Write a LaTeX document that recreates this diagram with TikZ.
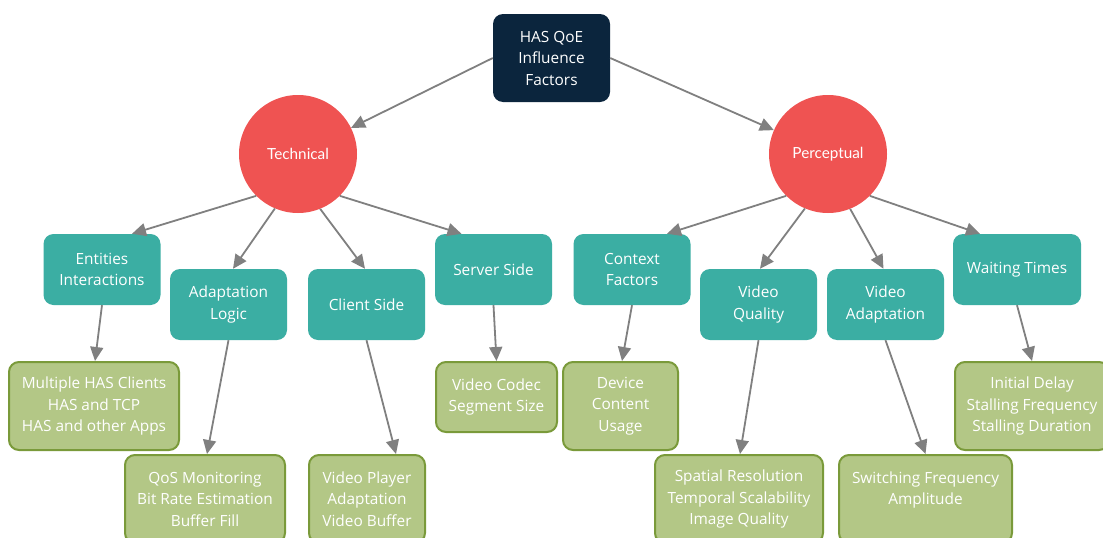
\documentclass[tikz,border=0pt]{standalone}
\usepackage{fontspec}
\setmainfont{Open Sans}
\newfontfamily\latofont{Lato}
\usetikzlibrary{arrows.meta,calc}
\definecolor{navy}{RGB}{11,37,61}
\definecolor{redc}{RGB}{239,83,82}
\definecolor{tealc}{RGB}{59,174,163}
\definecolor{leafg}{RGB}{179,199,134}
\definecolor{leafb}{RGB}{122,154,58}
\definecolor{arrowg}{RGB}{128,128,128}
\begin{document}
\begin{tikzpicture}[x=1pt,y=-1pt,
  base/.style={font=\fontsize{15.4}{21.5}\selectfont, text=white, align=center, inner sep=0pt, rounded corners=10pt},
  rootbox/.style={base, fill=navy, minimum width=117pt, minimum height=88pt},
  cat/.style={circle, fill=redc, minimum size=118pt, inner sep=0pt, text=white, font=\latofont\fontsize{15.3}{18}\selectfont},
  sub/.style={base, fill=tealc, minimum width=117pt, minimum height=71pt},
  leaf/.style={base, fill=leafg, draw=leafb, line width=2pt, minimum height=88pt},
  arr/.style={draw=arrowg, line width=1.8pt, -{Triangle[length=14pt,width=13pt]}}
]
\path[use as bounding box, clip] (0,0) rectangle (1103,538);
\fill[white] (0,0) rectangle (1103,538);

\node[rootbox] (root) at (551.5,58) {HAS QoE\\Influence\\Factors};
\node[cat] (tech) at (298,154) {Technical};
\node[cat] (perc) at (828,154) {Perceptual};

\node[sub] (ent) at (102,269.5) {Entities\\Interactions};
\node[sub] (adapt) at (228.5,304.5) {Adaptation\\Logic};
\node[sub] (client) at (366.5,304.5) {Client Side};
\node[sub] (server) at (493.5,269.5) {Server Side};
\node[sub] (context) at (632,269.5) {Context\\Factors};
\node[sub] (vq) at (758.5,304.5) {Video\\Quality};
\node[sub] (va) at (885.5,304.5) {Video\\Adaptation};
\node[sub, minimum width=128pt] (wait) at (1017,269.5) {Waiting Times};

\node[leaf, minimum width=170pt] (l1) at (94,406) {Multiple HAS Clients\\HAS and TCP\\HAS and other Apps};
\node[leaf, minimum width=160pt] (l2) at (205,499) {QoS Monitoring\\Bit Rate Estimation\\Buffer Fill};
\node[leaf, minimum width=116pt] (l3) at (367,499) {Video Player\\Adaptation\\Video Buffer};
\node[leaf, minimum width=121pt, minimum height=70pt] (l4) at (496.5,397) {Video Codec\\Segment Size};
\node[leaf, minimum width=115pt] (l5) at (620.5,406) {Device\\Content\\Usage};
\node[leaf, minimum width=168pt] (l6) at (739,499) {Spatial Resolution\\Temporal Scalability\\Image Quality};
\node[leaf, minimum width=173pt] (l7) at (925.5,499) {Switching Frequency\\Amplitude\\\mbox{}};
\node[leaf, minimum width=154pt] (l8) at (1032,406) {Initial Delay\\Stalling Frequency\\Stalling Duration};

\draw[arr] (root.west) -- (tech);
\draw[arr] (root.east) -- (perc);

\draw[arr] (tech.225) -- ([xshift=30pt]ent.north);
\draw[arr] (tech.247.5) -- ([xshift=4.5pt]adapt.north);
\draw[arr] (tech.292.5) -- ([xshift=-1.5pt]client.north);
\draw[arr] (tech.315) -- ([xshift=-32pt]server.north);
\draw[arr] (perc.225) -- ([xshift=35pt]context.north);
\draw[arr] (perc.247.5) -- ([xshift=1.5pt]vq.north);
\draw[arr] (perc.292.5) -- ([xshift=-2pt]va.north);
\draw[arr] (perc.315) -- ([xshift=-37pt]wait.north);

\draw[arr] (ent.south) -- ([xshift=1pt]l1.north);
\draw[arr] (adapt.south) -- ([xshift=2pt]l2.north);
\draw[arr] (client.south) -- ([xshift=29pt]l3.north);
\draw[arr] (server.south) -- (l4.north);
\draw[arr] (context.south) -- ([xshift=1.5pt]l5.north);
\draw[arr] (vq.south) -- ([xshift=1pt]l6.north);
\draw[arr] (va.south) -- (l7.north);
\draw[arr] (wait.south) -- (l8.north);
\end{tikzpicture}
\end{document}
